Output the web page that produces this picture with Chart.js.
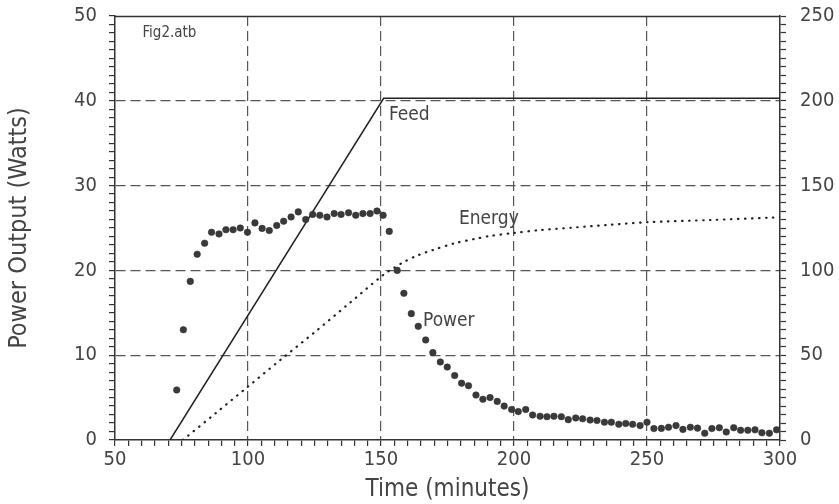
<!DOCTYPE html>
<html>
<head>
<meta charset="utf-8">
<script src="https://cdn.jsdelivr.net/npm/chart.js@4.4.1/dist/chart.umd.min.js"></script>
<style>
  html, body { margin: 0; padding: 0; background: #fff; }
  #wrap { width: 839px; height: 504px; }
</style>
</head>
<body>
<div id="wrap"><canvas id="myChart" width="839" height="504"></canvas></div>
<script>
// power samples (minutes, watts)
var powerTime = [73.2, 75.7, 78.3, 80.9, 83.7, 86.3, 89.1, 91.7, 94.4, 97.1,
    99.8, 102.6, 105.3, 108.0, 110.8, 113.4, 116.2, 118.9, 121.7, 124.3,
    127.0, 129.7, 132.4, 135.0, 137.8, 140.5, 143.2, 145.9, 148.5, 150.8,
    153.1, 156.1, 158.6, 161.4, 164.0, 166.8, 169.5, 172.3, 174.9, 177.7,
    180.3, 182.9, 185.7, 188.3, 191.0, 193.7, 196.3, 199.1, 201.6, 204.4,
    207.0, 209.8, 212.4, 215.0, 217.8, 220.4, 223.2, 225.8, 228.6, 231.2,
    234.0, 236.6, 239.4, 242.0, 244.6, 247.4, 250.0, 252.6, 255.4, 258.1,
    260.9, 263.5, 266.3, 269.0, 271.7, 274.4, 277.2, 279.8, 282.6, 285.2,
    287.9, 290.6, 293.2, 296.0, 298.7];
var powerWatts = [5.9, 13.0, 18.7, 21.9, 23.2, 24.5, 24.3, 24.8, 24.8, 25.0,
    24.5, 25.6, 24.95, 24.7, 25.3, 25.8, 26.3, 26.9, 26.0, 26.6,
    26.5, 26.3, 26.7, 26.6, 26.8, 26.5, 26.7, 26.7, 27.0, 26.5,
    24.6, 20.0, 17.3, 14.9, 13.4, 11.8, 10.3, 9.2, 8.6, 7.6,
    6.7, 6.4, 5.3, 4.8, 5.0, 4.55, 4.0, 3.6, 3.35, 3.6,
    2.95, 2.8, 2.75, 2.8, 2.75, 2.4, 2.6, 2.5, 2.35, 2.3,
    2.1, 2.1, 1.85, 1.95, 1.85, 1.7, 2.1, 1.35, 1.37, 1.5,
    1.7, 1.25, 1.5, 1.4, 0.8, 1.35, 1.45, 0.95, 1.45, 1.15,
    1.15, 1.2, 0.85, 0.8, 1.2];

// feed (right axis)
var feedTime = [70.7, 151.0, 300.0];
var feedValue = [0, 201.5, 201.5];

// energy (right axis)
var energyTime = [75.5, 88, 100, 112, 125, 138, 150.8, 154.6, 158.6, 164, 169.5,
    177.7, 185.7, 191, 199.5, 210, 223.5, 235, 250, 273.7, 296.4, 300];
var energyValue = [0, 16, 31.5, 47, 63.5, 80.5, 97.3, 101.2, 105, 109, 112,
    116, 118.7, 120.3, 122, 123.8, 125.4, 126.8, 128.4, 129.7, 131.1, 131.3];

// text notes placed in data units
var notes = [
    { text: 'Fig2.atb', x: 60.3, y: 47.5, size: 15 },
    { text: 'Feed', x: 153, y: 37.7, size: 19 },
    { text: 'Energy', x: 179.3, y: 25.5, size: 19 },
    { text: 'Power', x: 165.8, y: 13.4, size: 19 }
];

var FONT = "'DejaVu Sans Condensed', 'Liberation Sans Narrow', 'Liberation Sans', sans-serif";
var INK = '#333';
var TEXT = '#444';

function pts(xs, ys) {
    return xs.map(function (x, i) { return { x: x, y: ys[i] }; });
}

// fixed axis boxes so the plot area lands where the original has it
function fitV(w) {
    return function (s) { s.width = w; s.paddingTop = 0; s.paddingBottom = 0; };
}

var frame = {
    id: 'frame',
    afterDraw: function (chart) {
        var a = chart.chartArea, c = chart.ctx;
        c.save();
        c.strokeStyle = INK;
        c.lineWidth = 1.5;
        c.beginPath();
        c.moveTo(a.left, Math.round(a.top) + 0.5);
        c.lineTo(a.right, Math.round(a.top) + 0.5);
        c.stroke();
        c.fillStyle = TEXT;
        c.textBaseline = 'alphabetic';
        c.textAlign = 'left';
        notes.forEach(function (n) {
            c.font = n.size + 'px ' + FONT;
            c.fillText(n.text, chart.scales.x.getPixelForValue(n.x), chart.scales.y.getPixelForValue(n.y));
        });
        c.restore();
    }
};

var ctx = document.getElementById('myChart').getContext('2d');

var myChart = new Chart(ctx, {
    type: 'scatter',
    data: {
        datasets: [{
            label: 'Power',
            data: pts(powerTime, powerWatts),
            yAxisID: 'y',
            pointRadius: 3.3,
            pointBackgroundColor: '#3a3a3a',
            pointBorderColor: '#2e2e2e',
            pointBorderWidth: 0.5,
            showLine: false
        }, {
            label: 'Feed',
            data: pts(feedTime, feedValue),
            yAxisID: 'y2',
            showLine: true,
            borderColor: '#222',
            borderWidth: 1.5,
            pointRadius: 0,
            tension: 0
        }, {
            label: 'Energy',
            data: pts(energyTime, energyValue),
            yAxisID: 'y2',
            showLine: true,
            borderColor: '#222',
            borderWidth: 2.2,
            borderDash: [0.5, 6.5],
            borderCapStyle: 'round',
            pointRadius: 0,
            tension: 0.3
        }]
    },
    options: {
        responsive: false,
        animation: false,
        layout: { padding: { top: 16, left: 0, right: 0, bottom: 0 } },
        plugins: {
            legend: { display: false },
            tooltip: { enabled: false }
        },
        scales: {
            x: {
                type: 'linear',
                min: 50,
                max: 300,
                afterFit: function (s) { s.height = 64; s.paddingLeft = 0; s.paddingRight = 0; },
                border: { display: true, color: INK, width: 1.5, dash: [10, 5] },
                grid: {
                    color: function (c) {
                        var v = c.tick && c.tick.value;
                        return (v % 50 === 0 && v !== 50 && v !== 300) ? '#555' : 'transparent';
                    },
                    lineWidth: 1.2,
                    tickColor: INK,
                    tickLength: 6,
                    tickWidth: 1.2
                },
                ticks: {
                    stepSize: 5,
                    autoSkip: false,
                    maxTicksLimit: 100,
                    maxRotation: 0,
                    padding: 2,
                    color: TEXT,
                    font: { family: FONT, size: 20 },
                    callback: function (v) { return v % 50 === 0 ? v : ''; }
                },
                title: {
                    display: true,
                    text: 'Time (minutes)',
                    color: TEXT,
                    font: { family: FONT, size: 24 },
                    padding: { top: 0, bottom: 0 }
                }
            },
            y: {
                position: 'left',
                min: 0,
                max: 50,
                afterFit: fitV(115),
                border: { display: true, color: INK, width: 1.5, dash: [10, 5] },
                grid: {
                    color: function (c) {
                        var v = c.tick && c.tick.value;
                        return (v % 10 === 0 && v !== 0 && v !== 50) ? '#555' : 'transparent';
                    },
                    lineWidth: 1.2,
                    tickColor: INK,
                    tickLength: 6,
                    tickWidth: 1.2
                },
                ticks: {
                    stepSize: 1,
                    autoSkip: false,
                    maxTicksLimit: 100,
                    padding: 12,
                    color: TEXT,
                    font: { family: FONT, size: 20 },
                    callback: function (v) { return v % 10 === 0 ? v : ''; }
                },
                title: {
                    display: true,
                    text: 'Power Output (Watts)',
                    color: TEXT,
                    font: { family: FONT, size: 25 },
                    padding: { top: 4, bottom: 0 }
                }
            },
            y2: {
                position: 'right',
                min: 0,
                max: 250,
                afterFit: fitV(59),
                border: { display: true, color: INK, width: 1.5 },
                grid: {
                    drawOnChartArea: false,
                    tickColor: INK,
                    tickLength: 6,
                    tickWidth: 1.2
                },
                ticks: {
                    stepSize: 5,
                    autoSkip: false,
                    maxTicksLimit: 100,
                    padding: 14,
                    color: TEXT,
                    font: { family: FONT, size: 20 },
                    callback: function (v) { return v % 50 === 0 ? v : ''; }
                }
            }
        }
    },
    plugins: [frame]
});
</script>
</body>
</html>
